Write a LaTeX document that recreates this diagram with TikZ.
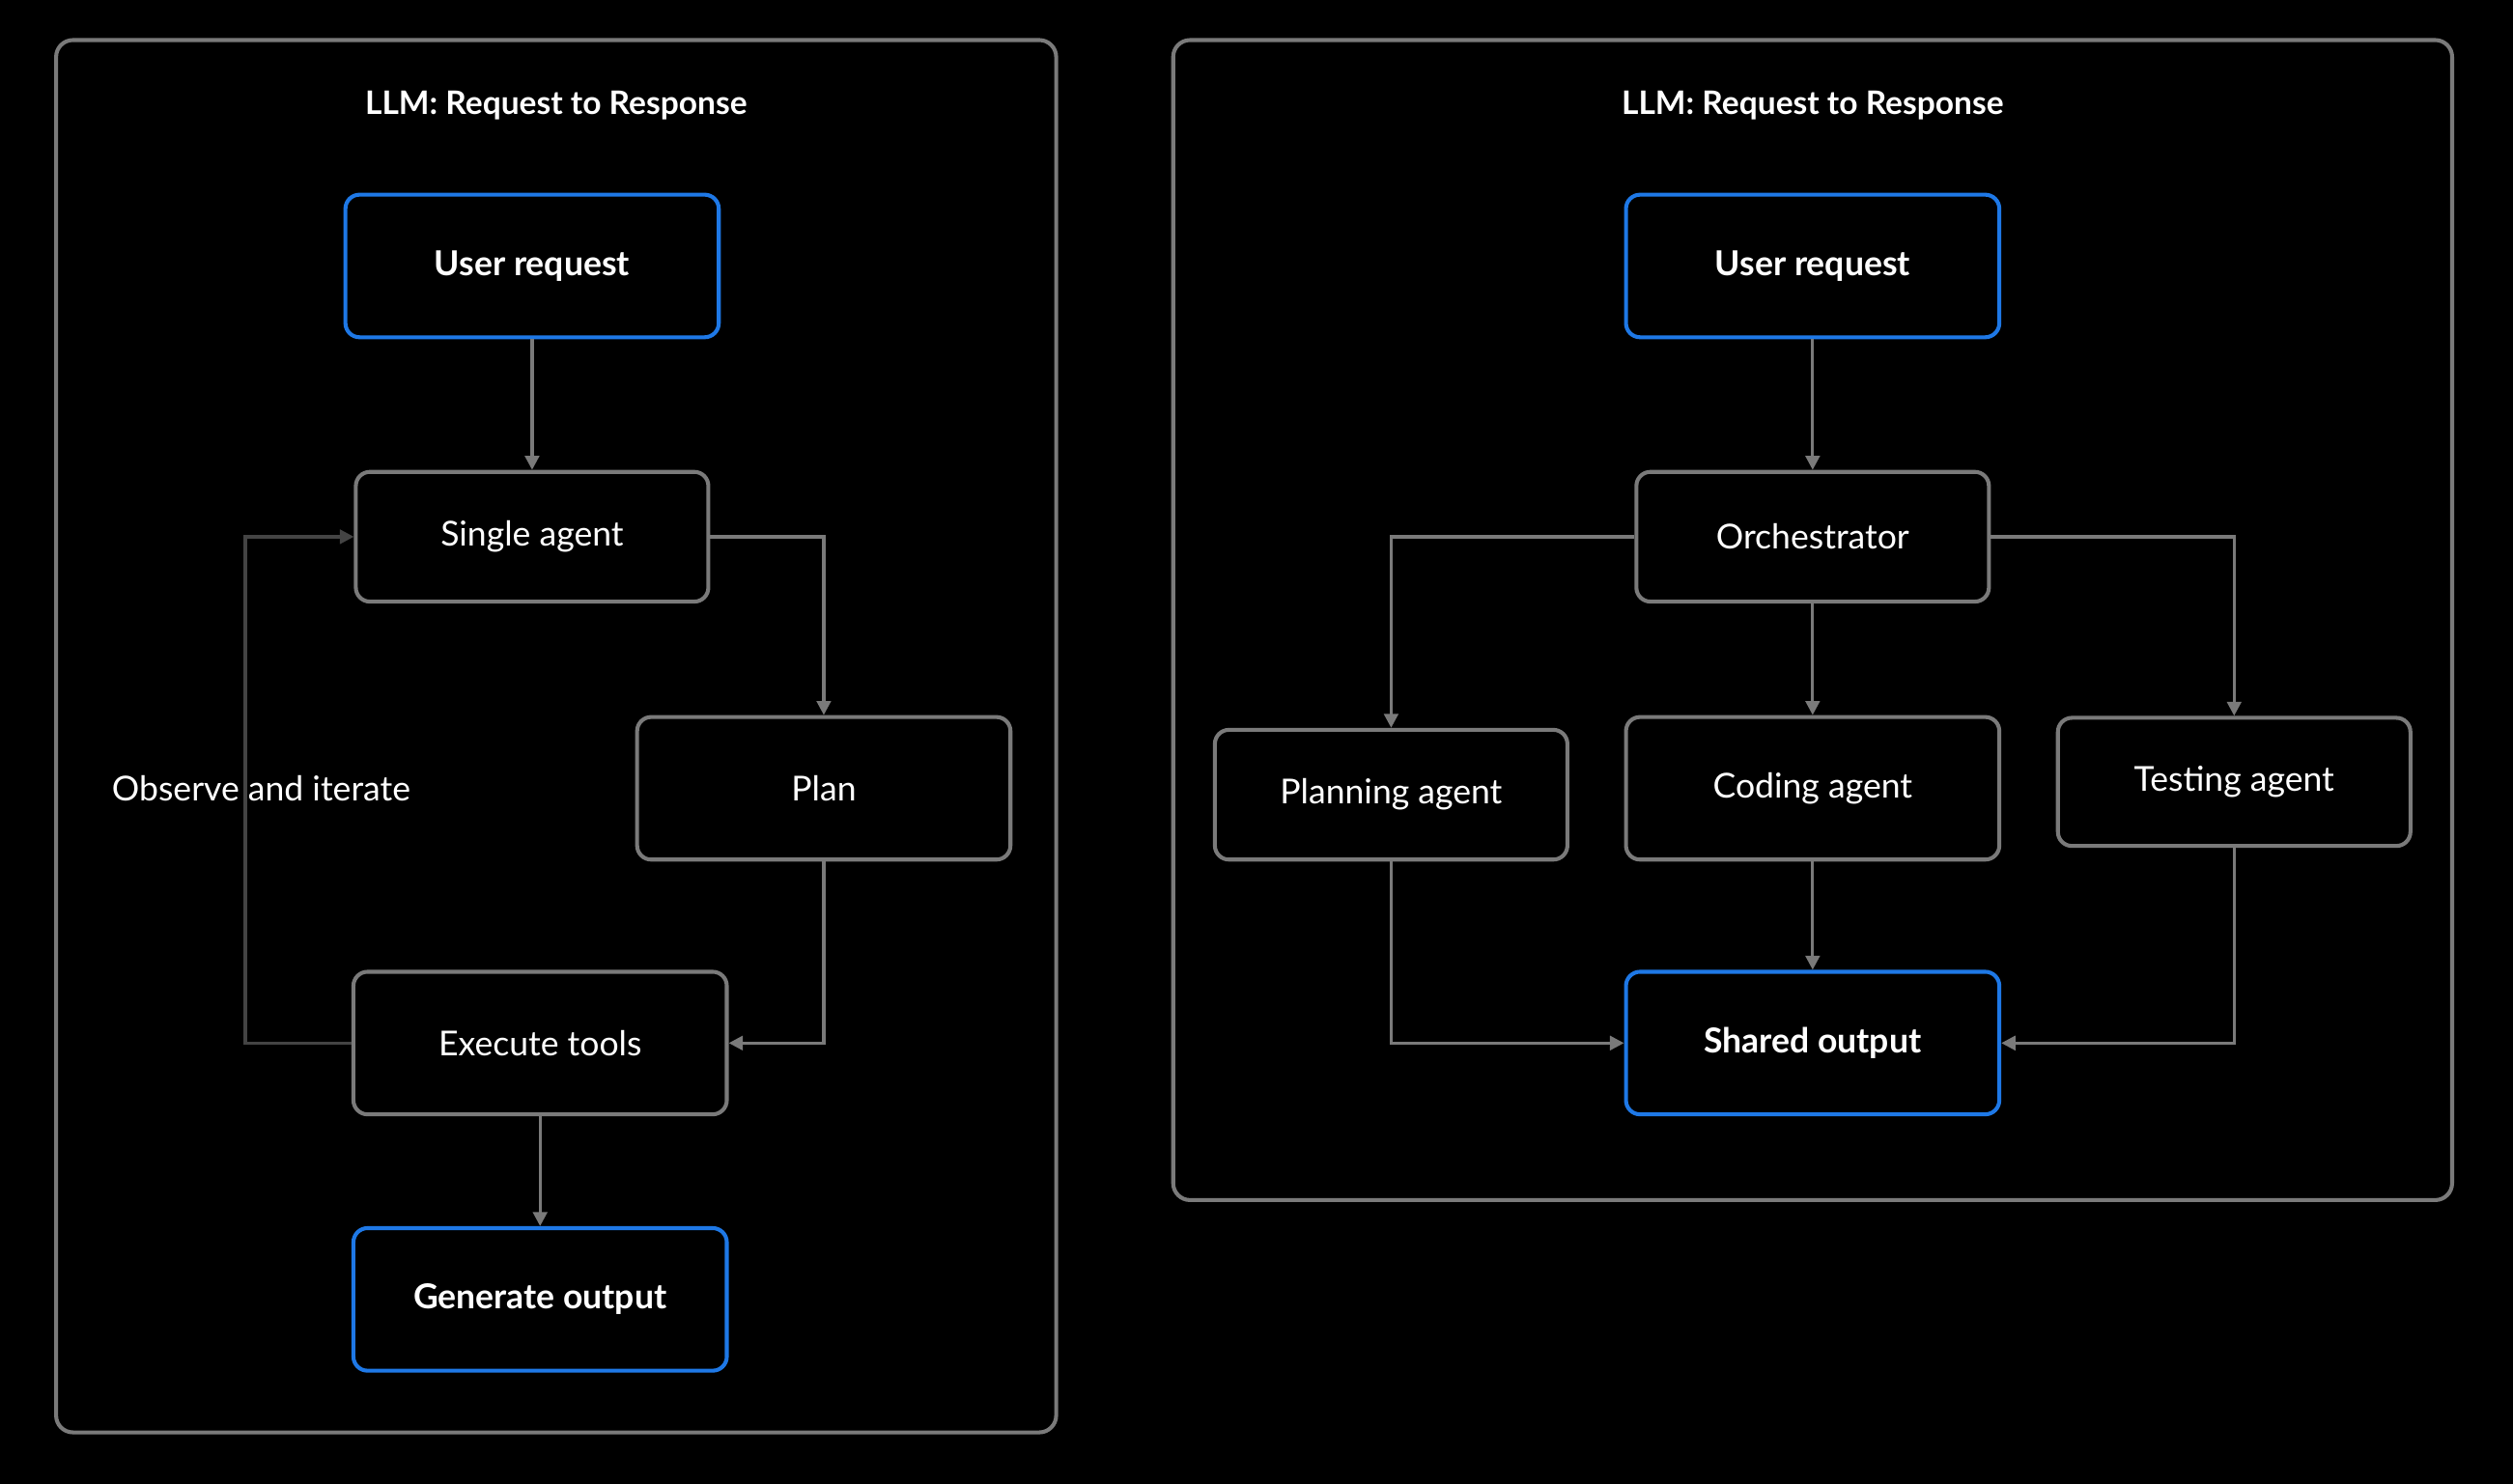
\documentclass[tikz,border=0pt]{standalone}
\usepackage{fontspec}
\setmainfont{Lato}
\usetikzlibrary{arrows.meta}
\definecolor{edge}{HTML}{7A7A7A}
\definecolor{loopc}{HTML}{444444}
\definecolor{accent}{HTML}{1E78E6}
\tikzset{
    frame/.style={draw=edge, line width=1.4pt, rounded corners=6pt},
    box/.style={draw=edge, fill=black, line width=1.4pt, rounded corners=5pt, text=white,
        font=\fontsize{12.2}{14}\selectfont, minimum width=4.4cm, minimum height=1.62cm},
    wide/.style={box, minimum width=4.66cm, minimum height=1.78cm},
    key/.style={wide, draw=accent, font=\fontsize{12.2}{14}\selectfont\bfseries},
    title/.style={text=white, font=\fontsize{11.5}{13}\selectfont\bfseries},
    link/.style={draw=edge, line width=1.1pt, -{Triangle[length=5pt,width=5pt]}},
}
\begin{document}
\begin{tikzpicture}[x=0.02cm, y=-0.02cm]
    \fill[black] (0, 0) rectangle (1568, 926);
    \useasboundingbox (0, 0) rectangle (1568, 926);

    % left panel
    \draw[frame] (35, 25) rectangle (659, 894);
    \node[title] (ltitle) at (347, 66) {LLM: Request to Response};
    \node[key] (lreq) at (332, 166) {User request};
    \node[box] (single) at (332, 335) {Single agent};
    \node[wide] (plan) at (514, 492) {Plan};
    \node[wide] (exec) at (337, 651) {Execute tools};
    \node[key] (gen) at (337, 811) {Generate output};
    \coordinate (lb) at (153, 651);
    \coordinate (lt) at (153, 335);
    \draw[link, draw=loopc] (exec.west) -- (lb) -- (lt) -- (single.west);
    \node[text=white, font=\fontsize{12.2}{14}\selectfont] (obs) at (163, 492) {Observe and iterate};
    \draw[link] (lreq) -- (single);
    \draw[link] (single.east) -| (plan.north);
    \draw[link] (plan.south) |- (exec.east);
    \draw[link] (exec) -- (gen);

    % right panel
    \draw[frame] (732, 25) rectangle (1530, 749);
    \node[title] (rtitle) at (1131, 66) {LLM: Request to Response};
    \node[key] (rreq) at (1131, 166) {User request};
    \node[box] (orch) at (1131, 335) {Orchestrator};
    \node[box] (planning) at (868, 496) {Planning agent};
    \node[wide] (coding) at (1131, 492) {Coding agent};
    \node[box, minimum height=1.6cm] (testing) at (1394, 488) {Testing agent};
    \node[key] (shared) at (1131, 651) {Shared output};
    \draw[link] (rreq) -- (orch);
    \draw[link] (orch.west) -| (planning.north);
    \draw[link] (orch.east) -| (testing.north);
    \draw[link] (orch) -- (coding);
    \draw[link] (coding) -- (shared);
    \draw[link] (planning.south) |- (shared.west);
    \draw[link] (testing.south) |- (shared.east);
\end{tikzpicture}
\end{document}
